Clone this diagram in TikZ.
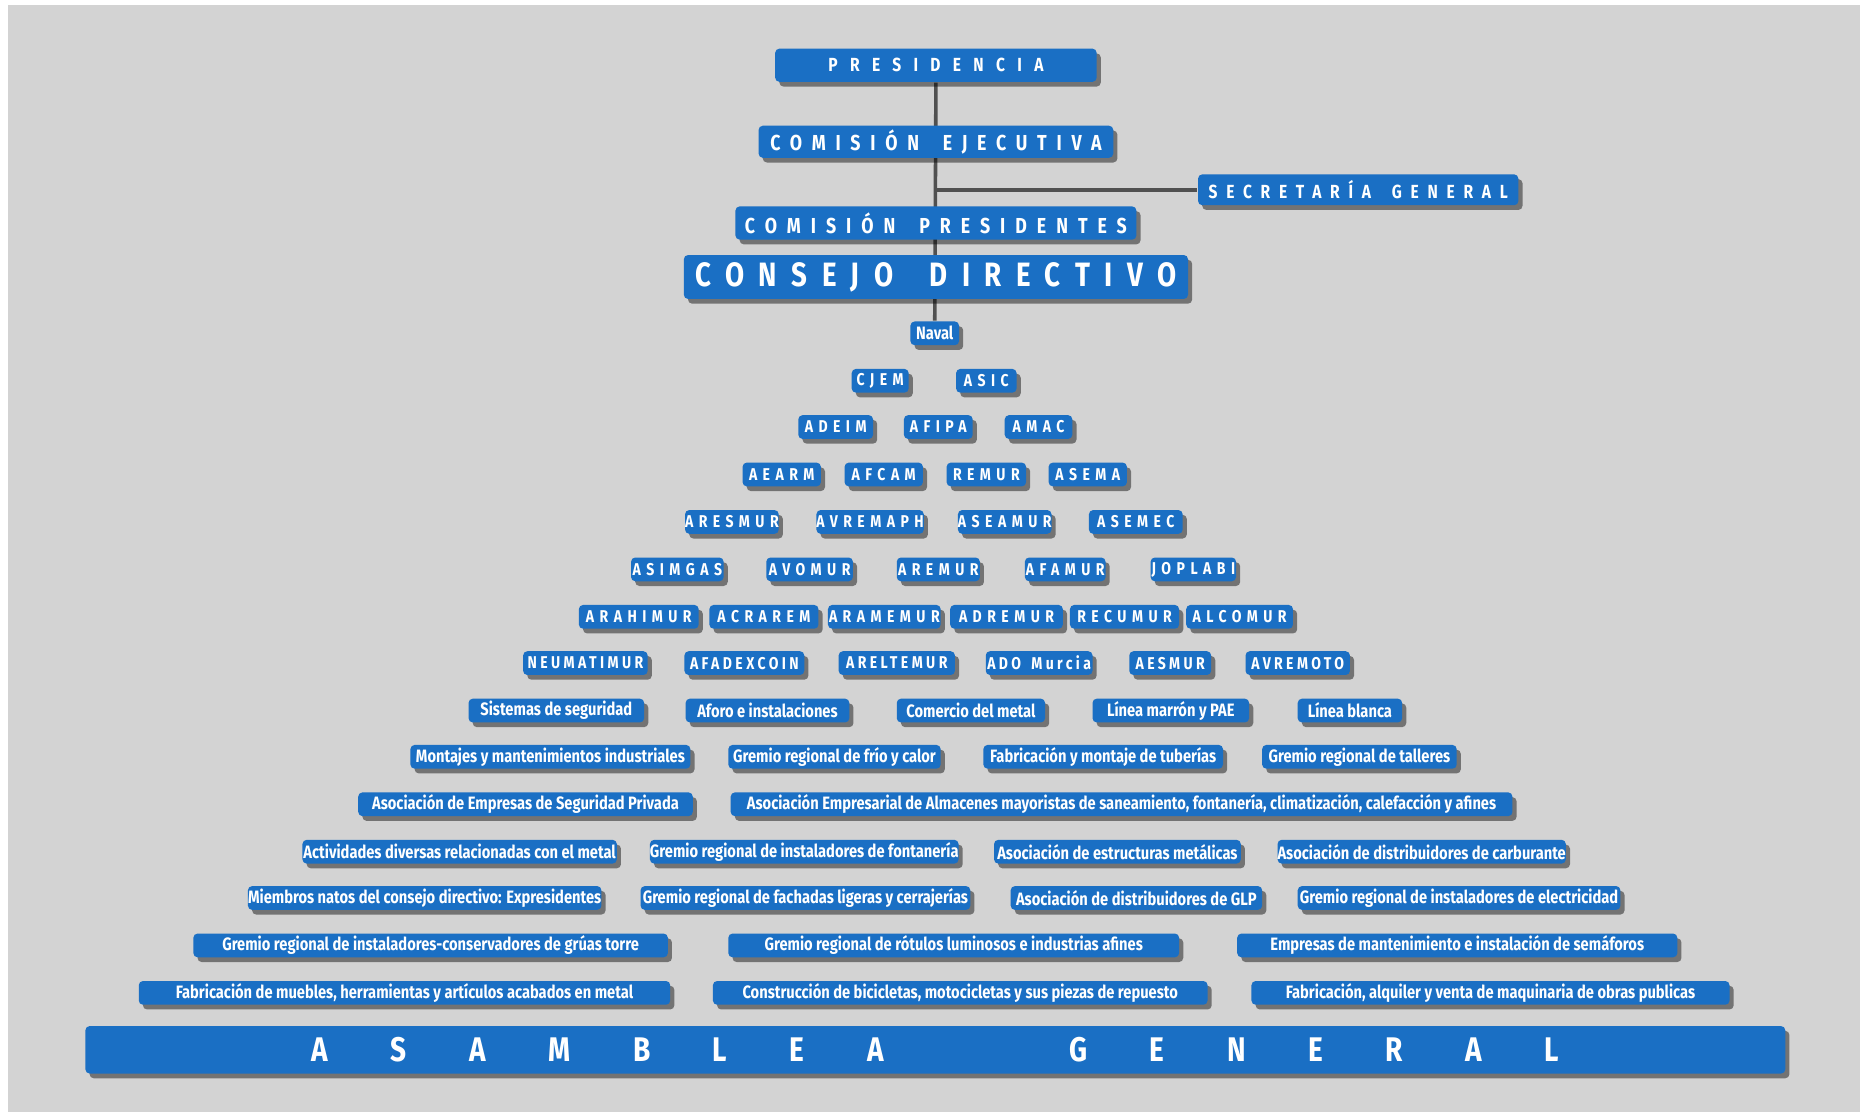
\documentclass[tikz,border=0pt]{standalone}
\usepackage{fontspec}
\newfontfamily\orgfont[FakeStretch=0.82]{Fira Sans}
\usepackage{xcolor}
\usetikzlibrary{shadows}
\usetikzlibrary{backgrounds}
\definecolor{orgblue}{RGB}{26,111,196}
\definecolor{bggray}{RGB}{211,211,211}
\definecolor{linegray}{RGB}{80,80,80}
\newcommand{\tracked}[2]{\orgfont\bfseries\addfontfeature{LetterSpace=#2}\fontsize{#1}{#1}\selectfont}
\newcommand{\gap}{\hspace{0.45em}}
\tikzset{orgbox/.style={fill=orgblue, text=white, rounded corners=0.35mm,
inner xsep=0pt, inner ysep=0pt, minimum height=2mm,
drop shadow={shadow xshift=0.35mm, shadow yshift=-0.4mm, fill=black, opacity=0.45}},
assoc/.style={orgbox, font=\orgfont\bfseries\fontsize{4.3pt}{5pt}\selectfont},
sigla/.style={orgbox, font=\tracked{4.1pt}{32}},
siglab/.style={orgbox, font=\tracked{4.1pt}{20}}}

\begin{document}
\begin{tikzpicture}[x=0.1mm, y=-0.1mm, organo/.style={orgbox, minimum height=#1}]
	\useasboundingbox (0,0) rectangle (1568,937);
	\node[organo=2.8mm, minimum width=27.1mm, font=\tracked{4.55pt}{65}] (presidencia) at (789,55) {PRESIDENCIA};
	\node[organo=2.7mm, minimum width=29.9mm, font=\tracked{5.2pt}{45}] (ejecutiva) at (789,119.5) {COMISIÓN\gap{} EJECUTIVA};
	\node[organo=2.6mm, minimum width=27mm, font=\tracked{4.55pt}{46}] (secretaria) at (1145,160) {SECRETARÍA\gap{} GENERAL};
	\node[organo=2.8mm, minimum width=33.8mm, font=\tracked{5.2pt}{46}] (presidentes) at (789,188) {COMISIÓN\gap{} PRESIDENTES};
	\node[organo=3.7mm, minimum width=42.5mm, font=\tracked{8.1pt}{43}] (consejo) at (789,233.5) {CONSEJO\gap{} DIRECTIVO};
	\node[assoc, minimum width=4.1mm] (naval) at (788,281) {Naval};

	\node[sigla, minimum width=4.8mm] (cjem) at (742,321) {CJEM};
	\node[sigla, minimum width=5.1mm] (asic) at (831.5,321) {ASIC};

	\node[sigla, minimum width=6.3mm] (adeim) at (704.5,360) {ADEIM};
	\node[sigla, minimum width=5.8mm] (afipa) at (791,360) {AFIPA};
	\node[sigla, minimum width=5.7mm] (amac) at (875.5,360) {AMAC};

	\node[sigla, minimum width=6.6mm] (aearm) at (659,400) {AEARM};
	\node[sigla, minimum width=6.6mm] (afcam) at (745,400) {AFCAM};
	\node[sigla, minimum width=6.7mm] (remur) at (831.5,400) {REMUR};
	\node[sigla, minimum width=6.6mm] (asema) at (917,400) {ASEMA};

	\node[sigla, minimum width=7.8mm] (aresmur) at (617,440) {ARESMUR};
	\node[sigla, minimum width=8.7mm] (avremaph) at (733.5,440) {AVREMAPH};
	\node[sigla, minimum width=7.8mm] (aseamur) at (847,440) {ASEAMUR};
	\node[sigla, minimum width=7.9mm] (asemec) at (957.5,440) {ASEMEC};

	\node[sigla, minimum width=7.8mm] (asimgas) at (571,480) {ASIMGAS};
	\node[sigla, minimum width=7.3mm] (avomur) at (682.5,480) {AVOMUR};
	\node[sigla, minimum width=7mm] (aremur) at (791,480) {AREMUR};
	\node[sigla, minimum width=6.8mm] (afamur) at (898,480) {AFAMUR};
	\node[sigla, minimum width=7.2mm] (joplabi) at (1006,480) {JOPLABI};

	\node[sigla, minimum width=10.1mm] (arahimur) at (538.5,520) {ARAHIMUR};
	\node[sigla, minimum width=9.2mm] (acrarem) at (644,520) {ACRAREM};
	\node[sigla, minimum width=9.5mm] (aramemur) at (745.5,520) {ARAMEMUR};
	\node[sigla, minimum width=9.5mm] (adremur) at (848.5,520) {ADREMUR};
	\node[sigla, minimum width=9.2mm] (recumur) at (948,520) {RECUMUR};
	\node[sigla, minimum width=9mm] (alcomur) at (1045,520) {ALCOMUR};

	\node[siglab, minimum width=10.5mm] (neumatimur) at (493.5,559) {NEUMATIMUR};
	\node[siglab, minimum width=10.1mm] (afadexcoin) at (627.5,559) {AFADEXCOIN};
	\node[siglab, minimum width=9.8mm] (areltemur) at (756,559) {ARELTEMUR};
	\node[siglab, minimum width=9mm] (adomurcia) at (876,559) {ADO\hspace{0.2em} Murcia};
	\node[siglab, minimum width=6.9mm] (aesmur) at (986.5,559) {AESMUR};
	\node[siglab, minimum width=8.8mm] (avremoto) at (1094,559) {AVREMOTO};

	\node[assoc, minimum width=14.8mm] (seguridad) at (469,599) {Sistemas de seguridad};
	\node[assoc, minimum width=13.8mm] (aforo) at (647,599) {Aforo e instalaciones};
	\node[assoc, minimum width=12.5mm] (comercio) at (818.5,599) {Comercio del metal};
	\node[assoc, minimum width=13.2mm] (marron) at (987,599) {Línea marrón y PAE};
	\node[assoc, minimum width=8.8mm] (blanca) at (1138,599) {Línea blanca};

	\node[assoc, minimum width=23.6mm] (montajes) at (464,638) {Montajes y mantenimientos industriales};
	\node[assoc, minimum width=17.9mm] (frio) at (703.5,638) {Gremio regional de frío y calor};
	\node[assoc, minimum width=20.2mm] (tuberias) at (930,638) {Fabricación y montaje de tuberías};
	\node[assoc, minimum width=16.4mm] (talleres) at (1146,638) {Gremio regional de talleres};

	\node[assoc, minimum width=28.2mm] (privada) at (443,678) {Asociación de Empresas de Seguridad Privada};
	\node[assoc, minimum width=65.9mm] (almacenes) at (945.5,678) {Asociación Empresarial de Almacenes mayoristas de saneamiento, fontanería, climatización, calefacción y afines};

	\node[assoc, minimum width=26.5mm] (actividades) at (387.5,718) {Actividades diversas relacionadas con el metal};
	\node[assoc, minimum width=26mm] (fontaneria) at (678,718) {Gremio regional de instaladores de fontanería};
	\node[assoc, minimum width=20.8mm] (estructuras) at (942,718) {Asociación de estructuras metálicas};
	\node[assoc, minimum width=24.3mm] (carburante) at (1198.5,718) {Asociación de distribuidores de carburante};

	\node[assoc, minimum width=29.8mm] (miembros) at (358,757) {Miembros natos del consejo directivo: Expresidentes};
	\node[assoc, minimum width=27.8mm] (fachadas) at (679,757) {Gremio regional de fachadas ligeras y cerrajerías};
	\node[assoc, minimum width=21.2mm] (glp) at (958,757) {Asociación de distribuidores de GLP};
	\node[assoc, minimum width=27.2mm] (electricidad) at (1230,757) {Gremio regional de instaladores de electricidad};

	\node[assoc, minimum width=40mm] (gruas) at (363,797) {Gremio regional de instaladores-conservadores de grúas torre};
	\node[assoc, minimum width=38mm] (rotulos) at (804,797) {Gremio regional de rótulos luminosos e industrias afines};
	\node[assoc, minimum width=37.1mm] (semaforos) at (1228.5,797) {Empresas de mantenimiento e instalación de semáforos};

	\node[assoc, minimum width=44.8mm] (muebles) at (341,837) {Fabricación de muebles, herramientas y artículos acabados en metal};
	\node[assoc, minimum width=41.7mm] (bicicletas) at (809.5,837) {Construcción de bicicletas, motocicletas y sus piezas de repuesto};
	\node[assoc, minimum width=40.3mm] (maquinaria) at (1256.5,837) {Fabricación, alquiler y venta de maquinaria de obras publicas};

	\node[organo=4mm, minimum width=143.3mm, font=\tracked{8.2pt}{183}] (asamblea) at (788.5,885) {ASAMBLEA\hspace{9.8mm} GENERAL};

	\begin{scope}[on background layer]
		\fill[bggray] (7,4) rectangle (1568,937);
		\draw[linegray, line width=0.3mm] (presidencia.south) -- (naval.north);
		\draw[linegray, line width=0.3mm] (presidencia.south |- secretaria.west) -- (secretaria.west);
	\end{scope}
\end{tikzpicture}
\end{document}
